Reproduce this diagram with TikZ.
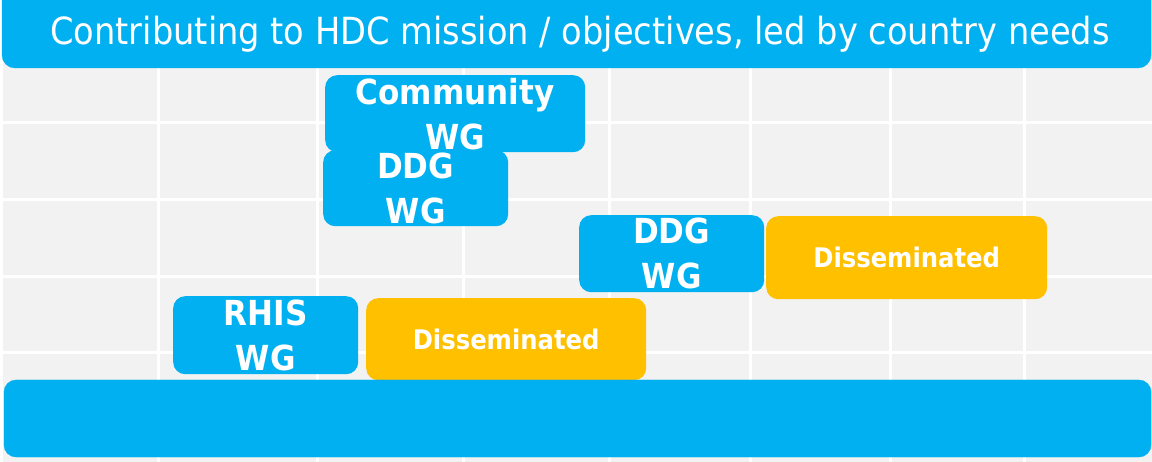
\documentclass[tikz,border=0pt]{standalone}
\usepackage{fontspec}
\setmainfont{DejaVu Sans}[FakeStretch=0.9]
\definecolor{hdcblue}{HTML}{00B0F0}
\definecolor{hdcgold}{HTML}{FFC000}
\definecolor{hdcgrey}{HTML}{F2F2F2}

\begin{document}
\begin{tikzpicture}[x=1pt,y=-1pt]
\tikzstyle{every node}+=[inner sep=0pt]
\tikzstyle{wgbox}=[fill=hdcblue, rounded corners=12pt, anchor=north west, text=white, align=center, font=\bfseries\fontsize{34.5}{45}\selectfont]
\tikzstyle{donebox}=[fill=hdcgold, rounded corners=12pt, anchor=north west, text=white, font=\bfseries\fontsize{27}{36}\selectfont]
\useasboundingbox (0,0) rectangle (1152,462);
\fill [hdcgrey] (0,0) rectangle (1152,462);
\foreach \gx in {1,158,317,463,609,750,890,1024}
  \draw [white, line width=3] (\gx,0) -- (\gx,462);
\foreach \gy in {123,200,277,353}
  \draw [white, line width=3] (0,\gy) -- (1152,\gy);
\draw [hdcblue, fill=hdcblue, rounded corners=13pt] (2,-20) rectangle (1151,68);
\draw (580,45) node [anchor=base, text=white, font=\fontsize{37.4}{44}\selectfont] (mission) {Contributing to HDC mission / objectives, led by country needs};
\node [wgbox, minimum width=260, minimum height=77] (community) at (325,75) {Community\\WG};
\node [wgbox, minimum width=185, minimum height=76] (ddgleft) at (323,150) {DDG\\WG};
\node [wgbox, minimum width=185, minimum height=77] (ddgright) at (579,215) {DDG\\WG};
\node [donebox, minimum width=281, minimum height=83] (doneright) at (766,216) {Disseminated};
\node [wgbox, minimum width=185, minimum height=78] (rhis) at (173,296) {RHIS\\WG};
\node [donebox, minimum width=280, minimum height=82] (doneleft) at (366,298) {Disseminated};
\draw [hdcblue, fill=hdcblue, rounded corners=12pt] (4,380) rectangle (1151,457);
\end{tikzpicture}
\end{document}
